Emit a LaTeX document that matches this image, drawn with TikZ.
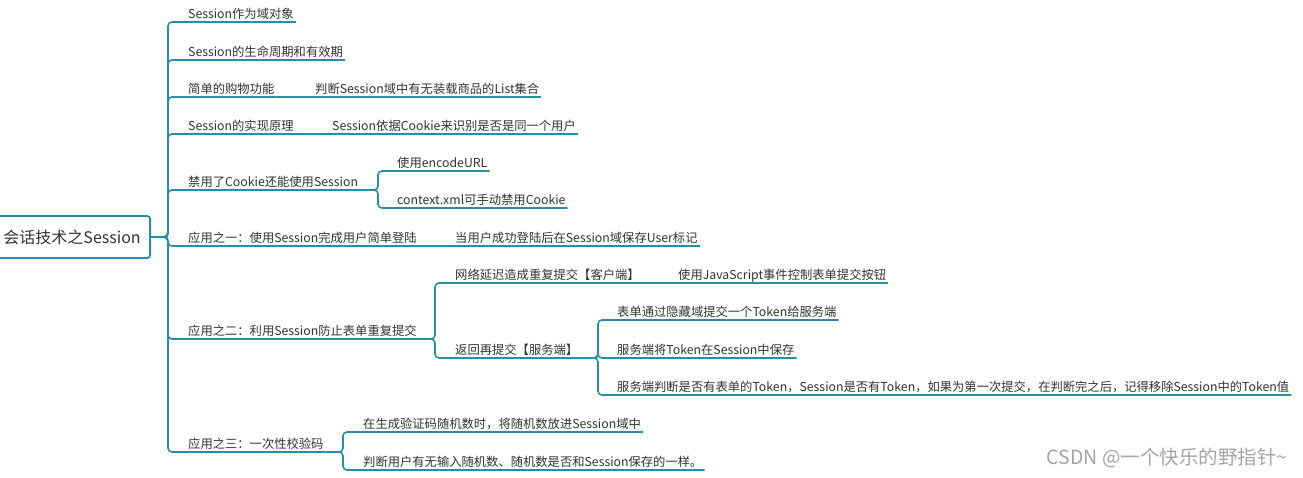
\documentclass[tikz,border=0pt]{standalone}
\usepackage{fontspec}
\newfontfamily\cjkfont{Noto Sans CJK SC}
\definecolor{mapline}{RGB}{38,143,161}
\definecolor{textgrey}{RGB}{51,51,51}
\definecolor{markgrey}{RGB}{165,165,165}
\tikzset{
  topic/.style={font=\cjkfont\fontsize{12.3}{14}\selectfont, text=textgrey,
    anchor=south west, inner xsep=2pt, inner ysep=1pt, text depth=2pt},
  link/.style={draw=mapline, line width=1.6pt, rounded corners=4pt}
}
\begin{document}
\begin{tikzpicture}[x=1pt, y=-1pt]

    % Fix the page size
    \useasboundingbox (0,0) rectangle (1303,477);

    % Draw the central topic
    \node[draw=mapline, line width=1.8pt, rounded corners=3pt, anchor=east,
      minimum width=156pt, minimum height=42pt, text=textgrey,
      font=\cjkfont\fontsize{16}{18}\selectfont] (root) at (151,237) {会话技术之Session};

    % Define branch points of the sub trunks
    \coordinate (k5) at (378,190);
    \coordinate (k7) at (435,339);
    \coordinate (k72) at (598,358);
    \coordinate (k8) at (343,452);

    % Main topics
    \node[topic] (s1) at (186,22) {Session作为域对象};
    \node[topic] (s2) at (186,60) {Session的生命周期和有效期};
    \node[topic] (s3) at (186,97) {简单的购物功能};
    \node[topic] (s4) at (186,134) {Session的实现原理};
    \node[topic] (s5) at (186,190) {禁用了Cookie还能使用Session};
    \node[topic] (s6) at (186,246) {应用之一：使用Session完成用户简单登陆};
    \node[topic] (s7) at (186,339) {应用之二：利用Session防止表单重复提交};
    \node[topic] (s8) at (186,452) {应用之三：一次性校验码};

    % Sub topics
    \node[topic] (c3) at (313,97) {判断Session域中有无装载商品的List集合};
    \node[topic] (c4) at (330,134) {Session依据Cookie来识别是否是同一个用户};
    \node[topic] (c51) at (395,171) {使用encodeURL};
    \node[topic] (c52) at (395,208) {context.xml可手动禁用Cookie};
    \node[topic] (c6) at (453,246) {当用户成功登陆后在Session域保存User标记};
    \node[topic] (c71) at (453,283) {网络延迟造成重复提交【客户端】};
    \node[topic] (d71) at (676,283) {使用JavaScript事件控制表单提交按钮};
    \node[topic] (c72) at (453,358) {返回再提交【服务端】};
    \node[topic] (d721) at (615,320) {表单通过隐藏域提交一个Token给服务端};
    \node[topic] (d722) at (615,358) {服务端将Token在Session中保存};
    \node[topic] (d723) at (615,395) {服务端判断是否有表单的Token，Session是否有Token，如果为第一次提交，在判断完之后，记得移除Session中的Token值};
    \node[topic] (c81) at (361,432) {在生成验证码随机数时，将随机数放进Session域中};
    \node[topic] (c82) at (361,470) {判断用户有无输入随机数、随机数是否和Session保存的一样。};

    % Draw the main trunk
    \foreach \t in {s1,s2,s3,s4,s5,s6,s7,s8}
      \draw[link] (root.east) -- ++(17,0) |- (\t.south east);

    % Draw the single children
    \draw[link] (s3.south east) -- (c3.south east);
    \draw[link] (s4.south east) -- (c4.south east);
    \draw[link] (s6.south east) -- (c6.south east);
    \draw[link] (c71.south east) -- (d71.south east);

    % Draw the sub trunks
    \draw[link] (s5.south east) -- (k5) |- (c51.south east);
    \draw[link] (s5.south east) -- (k5) |- (c52.south east);
    \draw[link] (s7.south east) -- (k7) |- (c71.south east);
    \draw[link] (s7.south east) -- (k7) |- (c72.south east);
    \draw[link] (c72.south east) -- (k72) |- (d721.south east);
    \draw[link] (c72.south east) -- (k72) |- (d722.south east);
    \draw[link] (c72.south east) -- (k72) |- (d723.south east);
    \draw[link] (s8.south east) -- (k8) |- (c81.south east);
    \draw[link] (s8.south east) -- (k8) |- (c82.south east);

    % Watermark
    \node[text=markgrey, font=\cjkfont\fontsize{19.5}{22}\selectfont] (mark) at (1167,458) {CSDN @一个快乐的野指针\textasciitilde};

\end{tikzpicture}
\end{document}
